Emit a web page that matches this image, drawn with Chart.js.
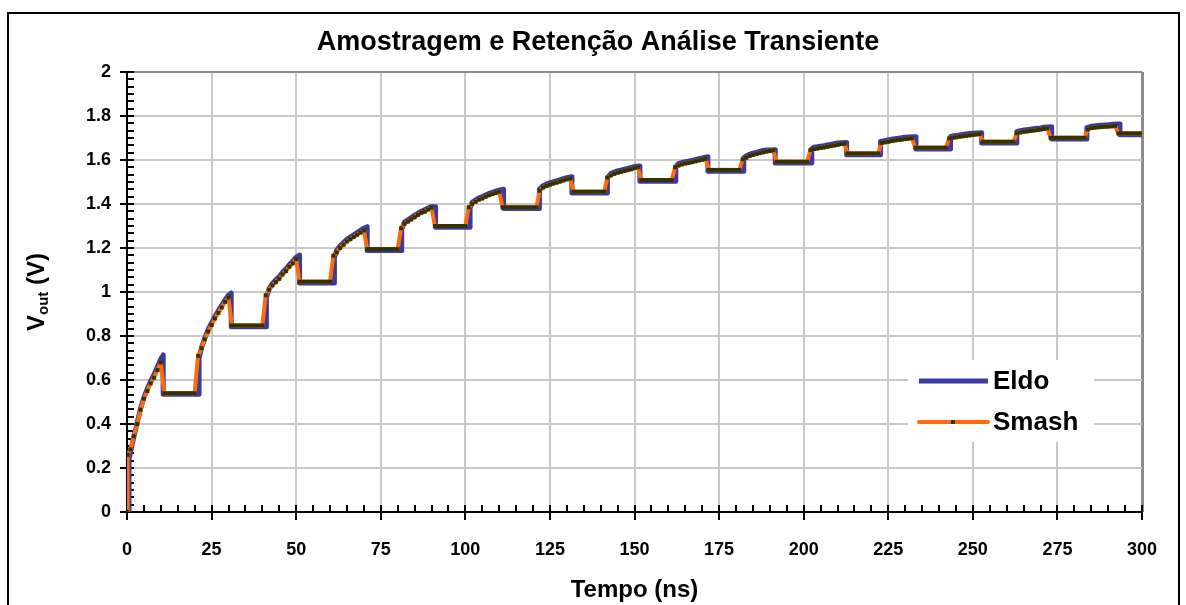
<!DOCTYPE html>
<html>
<head>
<meta charset="utf-8">
<script src="https://cdn.jsdelivr.net/npm/chart.js@4.4.1/dist/chart.umd.min.js"></script>
<style>
  html, body { margin: 0; padding: 0; background: #ffffff; }
  canvas { display: block; }
</style>
</head>
<body>
<canvas id="chart" width="1186" height="605"></canvas>
<script>
// ---- text ----
const chartTitle = 'Amostragem e Retenção Análise Transiente';
const xAxisTitle = 'Tempo (ns)';
const yTitleMain = 'V';
const yTitleSub = 'out';
const yTitleUnit = ' (V)';
const seriesNames = ['Eldo', 'Smash'];

// ---- tick labels ----
const xTickLabels = ['0', '25', '50', '75', '100', '125', '150', '175', '200', '225', '250', '275', '300'];
const yTickLabels = ['0', '0.2', '0.4', '0.6', '0.8', '1', '1.2', '1.4', '1.6', '1.8', '2'];

// ---- Eldo: time (ns) and output voltage (V) ----
const eldoTime = [
  0.6, 0.6, 1, 2, 3, 4, 5, 6, 7, 8, 9, 10, 10.7, 10.7, 21.3,
  21.3, 22, 23, 24, 25, 26, 27, 28, 29, 30, 30.8, 30.8, 41.2,
  41.2, 42, 43, 44, 45, 46, 47, 48, 49, 50, 51, 51, 61.3,
  61.3, 62, 63, 64, 65, 66, 67, 68, 69, 70, 71, 71, 81.2,
  81.2, 82, 83, 84, 85, 86, 87, 88, 89, 90, 91.2, 91.2, 101.4,
  101.4, 102, 103, 104, 105, 106, 107, 108, 109, 110, 111.3, 111.3, 121.8,
  121.8, 122, 123, 124, 125, 126, 127, 128, 129, 130, 131.5, 131.5, 142,
  142, 143, 144, 145, 146, 147, 148, 149, 150, 151.6, 151.6, 162.2,
  162.2, 163, 164, 165, 166, 167, 168, 169, 170, 171.7, 171.7, 182.3,
  182.3, 183, 184, 185, 186, 187, 188, 189, 190, 191.6, 191.6, 202.4,
  202.4, 203, 204, 205, 206, 207, 208, 209, 210, 212.7, 212.7, 222.7,
  222.7, 224, 225, 226, 227, 228, 229, 230, 231, 233.2, 233.2, 243.4,
  243.4, 244, 245, 246, 247, 248, 249, 250, 252.6, 252.6, 263,
  263, 264, 265, 266, 267, 268, 269, 270, 271, 273.3, 273.3, 283.7,
  283.7, 285, 286, 287, 288, 289, 290, 291, 293.5, 293.5, 300
];
const eldoVolt = [
  0, 0.24, 0.27, 0.34, 0.405, 0.47, 0.52, 0.56, 0.595, 0.625, 0.66, 0.695, 0.714, 0.535, 0.535,
  0.70, 0.745, 0.79, 0.83, 0.86, 0.89, 0.915, 0.94, 0.965, 0.985, 0.995, 0.842, 0.842,
  0.975, 1.015, 1.04, 1.055, 1.07, 1.09, 1.105, 1.125, 1.14, 1.158, 1.168, 1.041, 1.041,
  1.16, 1.19, 1.21, 1.225, 1.24, 1.25, 1.26, 1.27, 1.28, 1.29, 1.297, 1.189, 1.189,
  1.285, 1.318, 1.328, 1.338, 1.348, 1.358, 1.367, 1.373, 1.382, 1.388, 1.388, 1.294, 1.294,
  1.38, 1.408, 1.418, 1.428, 1.433, 1.441, 1.448, 1.453, 1.458, 1.463, 1.467, 1.379, 1.379,
  1.465, 1.468, 1.483, 1.49, 1.496, 1.501, 1.505, 1.51, 1.515, 1.52, 1.524, 1.45, 1.45,
  1.52, 1.538, 1.545, 1.55, 1.554, 1.558, 1.562, 1.566, 1.57, 1.573, 1.503, 1.503,
  1.57, 1.583, 1.588, 1.592, 1.595, 1.598, 1.602, 1.606, 1.609, 1.615, 1.549, 1.549,
  1.61, 1.618, 1.626, 1.631, 1.635, 1.639, 1.643, 1.645, 1.646, 1.647, 1.586, 1.586,
  1.652, 1.658, 1.66, 1.663, 1.665, 1.668, 1.671, 1.674, 1.677, 1.68, 1.624, 1.624,
  1.684, 1.688, 1.691, 1.694, 1.697, 1.699, 1.701, 1.703, 1.705, 1.706, 1.65, 1.65,
  1.706, 1.709, 1.711, 1.714, 1.716, 1.718, 1.72, 1.722, 1.724, 1.677, 1.677,
  1.729, 1.733, 1.736, 1.738, 1.74, 1.742, 1.744, 1.746, 1.749, 1.751, 1.695, 1.695,
  1.747, 1.753, 1.755, 1.757, 1.758, 1.759, 1.76, 1.762, 1.764, 1.715, 1.715
];

// ---- Smash: time (ns) and output voltage (V), one sample per ns ----
const smashTime = [
  0, 0.2, 1, 2, 3, 4, 5, 6, 7, 8, 9, 10,
  11, 12, 13, 14, 15, 16, 17, 18, 19, 20,
  21, 22, 23, 24, 25, 26, 27, 28, 29, 30,
  31, 32, 33, 34, 35, 36, 37, 38, 39, 40,
  41, 42, 43, 44, 45, 46, 47, 48, 49, 50,
  51, 52, 53, 54, 55, 56, 57, 58, 59, 60,
  61, 62, 63, 64, 65, 66, 67, 68, 69, 70,
  71, 72, 73, 74, 75, 76, 77, 78, 79, 80,
  81, 82, 83, 84, 85, 86, 87, 88, 89, 90,
  91, 92, 93, 94, 95, 96, 97, 98, 99, 100,
  101, 102, 103, 104, 105, 106, 107, 108, 109, 110,
  111, 112, 113, 114, 115, 116, 117, 118, 119, 120,
  121, 122, 123, 124, 125, 126, 127, 128, 129, 130,
  131, 132, 133, 134, 135, 136, 137, 138, 139, 140,
  141, 142, 143, 144, 145, 146, 147, 148, 149, 150,
  151, 152, 153, 154, 155, 156, 157, 158, 159, 160,
  161, 162, 163, 164, 165, 166, 167, 168, 169, 170,
  171, 172, 173, 174, 175, 176, 177, 178, 179, 180,
  181, 182, 183, 184, 185, 186, 187, 188, 189, 190,
  191, 192, 193, 194, 195, 196, 197, 198, 199, 200,
  201, 202, 203, 204, 205, 206, 207, 208, 209, 210,
  211, 212, 213, 214, 215, 216, 217, 218, 219, 220,
  221, 222, 223, 224, 225, 226, 227, 228, 229, 230,
  231, 232, 233, 234, 235, 236, 237, 238, 239, 240,
  241, 242, 243, 244, 245, 246, 247, 248, 249, 250,
  251, 252, 253, 254, 255, 256, 257, 258, 259, 260,
  261, 262, 263, 264, 265, 266, 267, 268, 269, 270,
  271, 272, 273, 274, 275, 276, 277, 278, 279, 280,
  281, 282, 283, 284, 285, 286, 287, 288, 289, 290,
  291, 292, 293, 294, 295, 296, 297, 298, 299, 300
];
const smashVolt = [
  0, 0.26, 0.285, 0.345, 0.40, 0.465, 0.515, 0.55, 0.585, 0.61, 0.645, 0.68,
  0.54, 0.54, 0.54, 0.54, 0.54, 0.54, 0.54, 0.54, 0.54, 0.54,
  0.71, 0.745, 0.785, 0.82, 0.85, 0.88, 0.905, 0.93, 0.955, 0.975,
  0.848, 0.848, 0.848, 0.848, 0.848, 0.848, 0.848, 0.848, 0.848, 0.848,
  0.985, 1.01, 1.03, 1.045, 1.06, 1.08, 1.095, 1.115, 1.13, 1.15,
  1.047, 1.047, 1.047, 1.047, 1.047, 1.047, 1.047, 1.047, 1.047, 1.047,
  1.165, 1.18, 1.2, 1.215, 1.23, 1.24, 1.25, 1.26, 1.27, 1.28,
  1.195, 1.195, 1.195, 1.195, 1.195, 1.195, 1.195, 1.195, 1.195, 1.195,
  1.29, 1.31, 1.32, 1.33, 1.34, 1.35, 1.36, 1.365, 1.375, 1.383,
  1.30, 1.30, 1.30, 1.30, 1.30, 1.30, 1.30, 1.30, 1.30, 1.30,
  1.385, 1.40, 1.41, 1.42, 1.425, 1.433, 1.44, 1.445, 1.45, 1.456,
  1.385, 1.385, 1.385, 1.385, 1.385, 1.385, 1.385, 1.385, 1.385, 1.385,
  1.385, 1.46, 1.475, 1.482, 1.488, 1.493, 1.497, 1.502, 1.507, 1.512,
  1.516, 1.456, 1.456, 1.456, 1.456, 1.456, 1.456, 1.456, 1.456, 1.456,
  1.456, 1.52, 1.53, 1.537, 1.542, 1.546, 1.55, 1.554, 1.558, 1.563,
  1.567, 1.509, 1.509, 1.509, 1.509, 1.509, 1.509, 1.509, 1.509, 1.509,
  1.509, 1.567, 1.575, 1.58, 1.584, 1.587, 1.59, 1.594, 1.598, 1.601,
  1.605, 1.555, 1.555, 1.555, 1.555, 1.555, 1.555, 1.555, 1.555, 1.555,
  1.555, 1.603, 1.61, 1.618, 1.623, 1.627, 1.631, 1.635, 1.638, 1.641,
  1.644, 1.592, 1.592, 1.592, 1.592, 1.592, 1.592, 1.592, 1.592, 1.592,
  1.592, 1.645, 1.65, 1.652, 1.655, 1.657, 1.66, 1.663, 1.666, 1.669,
  1.672, 1.674, 1.63, 1.63, 1.63, 1.63, 1.63, 1.63, 1.63, 1.63,
  1.63, 1.63, 1.677, 1.68, 1.683, 1.686, 1.689, 1.691, 1.693, 1.695,
  1.697, 1.699, 1.656, 1.656, 1.656, 1.656, 1.656, 1.656, 1.656, 1.656,
  1.656, 1.656, 1.698, 1.701, 1.703, 1.706, 1.708, 1.71, 1.712, 1.714,
  1.716, 1.718, 1.683, 1.683, 1.683, 1.683, 1.683, 1.683, 1.683, 1.683,
  1.683, 1.683, 1.721, 1.725, 1.728, 1.73, 1.732, 1.734, 1.736, 1.738,
  1.741, 1.744, 1.701, 1.701, 1.701, 1.701, 1.701, 1.701, 1.701, 1.701,
  1.701, 1.701, 1.701, 1.739, 1.745, 1.747, 1.749, 1.75, 1.751, 1.752,
  1.753, 1.755, 1.721, 1.721, 1.721, 1.721, 1.721, 1.721, 1.721, 1.721
];

const FONT = '"Liberation Sans", Arial, Helvetica, sans-serif';
const toPoints = (ts, vs) => ts.map((t, i) => ({ x: t, y: vs[i] }));

// Outer frame, title and axis titles
const framePlugin = {
  id: 'frameAndTitles',
  beforeDraw(chart) {
    const ctx = chart.ctx;
    ctx.save();
    ctx.fillStyle = '#ffffff';
    ctx.fillRect(0, 0, chart.width, chart.height);
    ctx.restore();
  },
  afterDraw(chart) {
    const { ctx, chartArea: a } = chart;
    ctx.save();
    ctx.strokeStyle = '#000000';
    ctx.lineWidth = 2;
    ctx.strokeRect(8, 13, 1171, 620);

    ctx.fillStyle = '#000000';
    ctx.textAlign = 'center';
    ctx.textBaseline = 'middle';
    ctx.font = 'bold 27px ' + FONT;
    ctx.fillText(chartTitle, 598, 43);

    ctx.font = 'bold 24px ' + FONT;
    ctx.fillText(xAxisTitle, (a.left + a.right) / 2, 590);

    // rotated y title with subscript
    ctx.translate(36, (a.top + a.bottom) / 2);
    ctx.rotate(-Math.PI / 2);
    const fMain = 'bold 24px ' + FONT, fSub = 'bold 15px ' + FONT;
    ctx.font = fMain; const w1 = ctx.measureText(yTitleMain).width;
    const w3 = ctx.measureText(yTitleUnit).width;
    ctx.font = fSub; const w2 = ctx.measureText(yTitleSub).width;
    let x0 = -(w1 + w2 + w3) / 2;
    ctx.textAlign = 'left';
    ctx.textBaseline = 'alphabetic';
    ctx.font = fMain; ctx.fillText(yTitleMain, x0, 8);
    ctx.font = fSub; ctx.fillText(yTitleSub, x0 + w1, 12);
    ctx.font = fMain; ctx.fillText(yTitleUnit, x0 + w1 + w2, 8);
    ctx.restore();
  }
};

// Axis lines with crossing major ticks and inside minor ticks
const axisTicksPlugin = {
  id: 'axisTicks',
  beforeDatasetsDraw(chart) {
    const { ctx, chartArea: a, scales: { x, y } } = chart;
    ctx.save();
    ctx.strokeStyle = '#000000';
    ctx.lineWidth = 2;
    ctx.beginPath();
    ctx.moveTo(a.left, a.top);
    ctx.lineTo(a.left, a.bottom + 1);
    ctx.moveTo(a.left - 1, a.bottom);
    ctx.lineTo(a.right, a.bottom);
    ctx.stroke();

    const yt = y.ticks.map(t => t.value);
    ctx.beginPath();
    yt.forEach((v, i) => {
      const py = Math.round(y.getPixelForValue(v));
      ctx.moveTo(a.left - 7, py); ctx.lineTo(a.left + 7, py);
      if (i < yt.length - 1) {
        const step = (yt[i + 1] - v) / 6;
        for (let k = 1; k < 6; k++) {
          const my = Math.round(y.getPixelForValue(v + k * step));
          ctx.moveTo(a.left, my); ctx.lineTo(a.left + 7, my);
        }
      }
    });
    const xt = x.ticks.map(t => t.value);
    xt.forEach((v, i) => {
      const px = Math.round(x.getPixelForValue(v));
      ctx.moveTo(px, a.bottom - 7); ctx.lineTo(px, a.bottom + 8);
      if (i < xt.length - 1) {
        const step = (xt[i + 1] - v) / 5;
        for (let k = 1; k < 5; k++) {
          const mx = Math.round(x.getPixelForValue(v + k * step));
          ctx.moveTo(mx, a.bottom - 7); ctx.lineTo(mx, a.bottom);
        }
      }
    });
    ctx.stroke();
    ctx.restore();
  }
};

// Legend box inside the plot
const legendPlugin = {
  id: 'insideLegend',
  afterDatasetsDraw(chart) {
    const ctx = chart.ctx;
    const ds = chart.data.datasets;
    ctx.save();
    ctx.fillStyle = '#ffffff';
    ctx.fillRect(908, 360, 186, 82);
    const rows = [381, 422];
    ds.forEach((d, i) => {
      const yy = rows[i];
      ctx.strokeStyle = d.borderColor;
      ctx.lineWidth = i === 0 ? 5 : 4;
      ctx.lineCap = i === 0 ? 'butt' : 'round';
      ctx.beginPath();
      ctx.moveTo(919, yy); ctx.lineTo(988, yy);
      ctx.stroke();
      if (d.pointRadius > 0) {
        ctx.fillStyle = d.pointBackgroundColor;
        ctx.fillRect(951, yy - 2, 4, 4);
      }
      ctx.fillStyle = '#000000';
      ctx.font = 'bold 26px ' + FONT;
      ctx.textAlign = 'left';
      ctx.textBaseline = 'middle';
      ctx.fillText(d.label, 993, yy + 1);
    });
    ctx.restore();
  }
};

const gridColor = (ctx, edgeValue) => {
  if (!ctx.tick) return '#c8c8c8';
  if (ctx.tick.value === 0) return 'rgba(0,0,0,0)';
  if (ctx.tick.value === edgeValue) return '#8c8c8c';
  return '#c8c8c8';
};

new Chart(document.getElementById('chart'), {
  type: 'line',
  data: {
    datasets: [
      {
        label: seriesNames[0],
        data: toPoints(eldoTime, eldoVolt),
        borderColor: '#3b3b9d',
        borderWidth: 5,
        pointRadius: 0,
        tension: 0,
        borderJoinStyle: 'round',
        order: 2
      },
      {
        label: seriesNames[1],
        data: toPoints(smashTime, smashVolt),
        borderColor: '#ff6a0a',
        borderWidth: 4,
        pointStyle: 'rect',
        pointRadius: 2.8,
        pointBorderWidth: 0,
        pointBackgroundColor: '#333300',
        pointBorderColor: '#333300',
        tension: 0,
        borderJoinStyle: 'round',
        order: 1
      }
    ]
  },
  options: {
    responsive: false,
    animation: false,
    layout: { padding: { left: 0, top: 72, right: 44, bottom: 0 } },
    plugins: {
      legend: { display: false },
      title: { display: false },
      tooltip: { enabled: false }
    },
    scales: {
      x: {
        type: 'linear',
        min: 0, max: 300,
        afterFit(scale) { scale.height = 93; },
        ticks: {
          stepSize: 25,
          padding: 27,
          maxRotation: 0,
          color: '#000000',
          font: { family: FONT, size: 18, weight: 'bold' },
          callback: (v, i) => xTickLabels[i]
        },
        grid: {
          drawTicks: false,
          color: c => gridColor(c, 300),
          lineWidth: c => (c.tick && c.tick.value === 300 ? 3 : 2)
        },
        border: { display: false }
      },
      y: {
        min: 0, max: 2,
        afterFit(scale) { scale.width = 127; },
        ticks: {
          stepSize: 0.2,
          padding: 16,
          color: '#000000',
          font: { family: FONT, size: 18, weight: 'bold' },
          callback: (v, i) => yTickLabels[i]
        },
        grid: {
          drawTicks: false,
          color: c => gridColor(c, 2),
          lineWidth: 2
        },
        border: { display: false }
      }
    }
  },
  plugins: [framePlugin, axisTicksPlugin, legendPlugin]
});
</script>
</body>
</html>
